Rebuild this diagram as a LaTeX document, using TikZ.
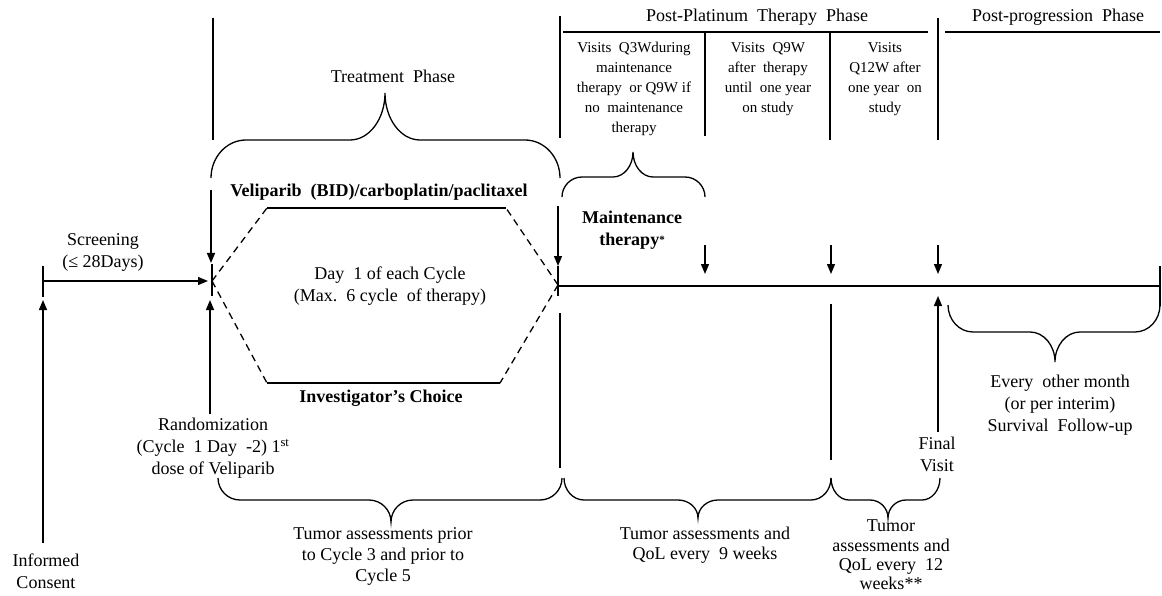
\documentclass[tikz,border=0pt]{standalone}
\usepackage{fontspec}
\setmainfont{Liberation Serif}
\usetikzlibrary{arrows.meta}
\newcommand\mybrace[7]{%
 \draw[ln] (#1,#3) .. controls (#1,{#3+0.552*(#4-#3)}) and ({#1+0.448*#7},#4) .. ({#1+#7},#4)
  -- ({#5-#7},#4) .. controls ({#5-0.448*#7},#4) and (#5,{#4+0.448*(#6-#4)}) .. (#5,#6)
  .. controls (#5,{#4+0.448*(#6-#4)}) and ({#5+0.448*#7},#4) .. ({#5+#7},#4)
  -- ({#2-#7},#4) .. controls ({#2-0.448*#7},#4) and (#2,{#3+0.552*(#4-#3)}) .. (#2,#3);}
\tikzset{
 ln/.style={line width=1.3pt},
 thick line/.style={line width=1.8pt},
 arr/.style={ln,-{Triangle[length=10pt,width=8pt]}},
 dash line/.style={line width=1.3pt,dash pattern=on 7pt off 5pt},
 txt/.style={font=\fontsize{18}{22}\selectfont,align=center,inner sep=0pt},
 ctxt/.style={font=\fontsize{18}{20}\selectfont,align=center,inner sep=0pt},
 btxt/.style={font=\fontsize{18}{22}\selectfont\bfseries,align=center,inner sep=0pt},
 stxt/.style={font=\fontsize{15}{20}\selectfont,align=center,inner sep=0pt},
}
\begin{document}
\begin{tikzpicture}[x=1pt,y=-1pt]
\useasboundingbox (0,0) rectangle (1162,596);
% header lines
\coordinate (v1t) at (213,18); \coordinate (v1b) at (213,140);
\coordinate (v2t) at (560,16); \coordinate (v2b) at (560,138);
\coordinate (v3t) at (705,32); \coordinate (v3b) at (705,136);
\coordinate (v4t) at (830,32); \coordinate (v4b) at (830,140);
\coordinate (v5t) at (938,18); \coordinate (v5b) at (938,140);
\coordinate (h1a) at (563,32); \coordinate (h1b) at (928,32);
\coordinate (h2a) at (945,32); \coordinate (h2b) at (1160,32);
\draw[ln] (v1t) -- (v1b);
\draw[ln] (v2t) -- (v2b);
\draw[ln] (v3t) -- (v3b);
\draw[ln] (v4t) -- (v4b);
\draw[ln] (v5t) -- (v5b);
\draw[ln] (h1a) -- (h1b);
\draw[ln] (h2a) -- (h2b);
\node[txt] (ppt) at (757,17) {Post-Platinum\ \ Therapy\ \ Phase};
\node[txt] (ppp) at (1058,17) {Post-progression\ \ Phase};
\node[stxt,anchor=north] (vis1) at (634,42) {Visits\ \ Q3Wduring\\maintenance\\therapy\ \ or\ Q9W if\\no\ \ maintenance\\therapy};
\node[stxt,anchor=north] (vis2) at (768,42) {Visits\ \ Q9W\\after\ \ therapy\\until\ \ one year\\on study};
\node[stxt,anchor=north] (vis3) at (885,42) {Visits\\Q12W after\\one year\ \ on\\study};
% treatment phase
\node[txt] (tp) at (393,76) {Treatment\ \ Phase};
\mybrace{211}{560}{178}{140}{385}{93}{35}
\mybrace{562}{705}{197}{177}{633}{152}{20}
\node[btxt] (vel) at (379,192) {Veliparib\ \ (BID)/carboplatin/paclitaxel};
% hexagon
\coordinate (hl) at (212,281); \coordinate (htl) at (267,208); \coordinate (htr) at (506,208);
\coordinate (hr) at (558,285); \coordinate (hbr) at (500,383); \coordinate (hbl) at (267,383);
\draw[ln] (htl) -- (htr);
\draw[ln] (hbl) -- (hbr);
\draw[dash line] (hl) -- (htl);
\draw[dash line] (hl) -- (hbl);
\draw[dash line] (hr) -- (htr);
\draw[dash line] (hr) -- (hbr);
\node[txt] (day) at (390,286) {Day\ \ 1 of each\ Cycle\\(Max.\ \ 6 cycle\ \ of\ therapy)};
\node[btxt] (inv) at (381,398) {Investigator’s\ Choice};
\node[btxt,anchor=north] (mt) at (632,211) {Maintenance\\therapy\raisebox{2pt}{\fontsize{11}{11}\selectfont *}};
% left timeline
\coordinate (ict) at (43,266); \coordinate (icb) at (43,297);
\coordinate (ic) at (43,281); \coordinate (rz) at (208,281);
\coordinate (rzt) at (212,264); \coordinate (rzb) at (212,296);
\draw[ln] (ict) -- (icb);
\draw[ln] (rzt) -- (rzb);
\draw[arr] (ic) -- (rz);
\node[txt] (scr) at (103,252) {Screening\\(≤\ 28Days)};
\coordinate (a1s) at (211,190); \coordinate (a1e) at (211,263);
\draw[arr] (a1s) -- (a1e);
\coordinate (a2s) at (43,543); \coordinate (a2e) at (43,300);
\draw[arr] (a2s) -- (a2e);
\node[txt] (icn) at (46,571) {Informed\\Consent};
\coordinate (a3s) at (210,414); \coordinate (a3e) at (210,300);
\draw[arr] (a3s) -- (a3e);
\node[txt] (rnd) at (213,448) {Randomization\\(Cycle\ \ 1 Day\ \ -2)\ 1\textsuperscript{st}\\dose of Veliparib};
% right timeline
\coordinate (t0) at (558,286); \coordinate (t1) at (1160,286);
\coordinate (t0t) at (558,266); \coordinate (t0b) at (558,296);
\coordinate (t1t) at (1160,266); \coordinate (t1b) at (1160,306);
\draw[thick line] (t0) -- (t1);
\draw[ln] (t0t) -- (t0b);
\draw[ln] (t1t) -- (t1b);
\coordinate (a4s) at (558,206); \coordinate (a4e) at (558,266);
\draw[arr] (a4s) -- (a4e);
\foreach \xx/\nm in {705/b1,831/b2,938/b3}{
 \coordinate (\nm s) at (\xx,245); \coordinate (\nm e) at (\xx,274);
 \draw[arr] (\nm s) -- (\nm e);
}
\coordinate (l1t) at (560,313); \coordinate (l1b) at (560,468);
\coordinate (l2t) at (831,304); \coordinate (l2b) at (831,460);
\draw[ln] (l1t) -- (l1b);
\draw[ln] (l2t) -- (l2b);
\coordinate (a5s) at (938,432); \coordinate (a5e) at (938,296);
\draw[arr] (a5s) -- (a5e);
\node[txt] (fv) at (937,454) {Final\\Visit};
\mybrace{948}{1160}{305}{332}{1055}{362}{25}
\node[txt] (eom) at (1060,405) {Every\ \ other month\\(or per interim)\\Survival\ \ Follow-up};
% bottom braces
\mybrace{218}{562}{478}{500}{391}{522}{22}
\mybrace{564}{831}{478}{500}{698}{518}{20}
\mybrace{831}{940}{478}{500}{888}{518}{18}
\node[font=\fontsize{18}{21}\selectfont,align=center,inner sep=0pt] (tu1) at (383,556) {Tumor assessments prior\\to Cycle 3 and prior to\\Cycle 5};
\node[ctxt] (tu2) at (705,545) {Tumor assessments\ and\\QoL every\ \ 9 weeks};
\node[font=\fontsize{18}{19.3}\selectfont,align=center,inner sep=0pt] (tu3) at (891,555) {Tumor\\assessments and\\QoL every\ \ 12\\weeks**};
\end{tikzpicture}
\end{document}
